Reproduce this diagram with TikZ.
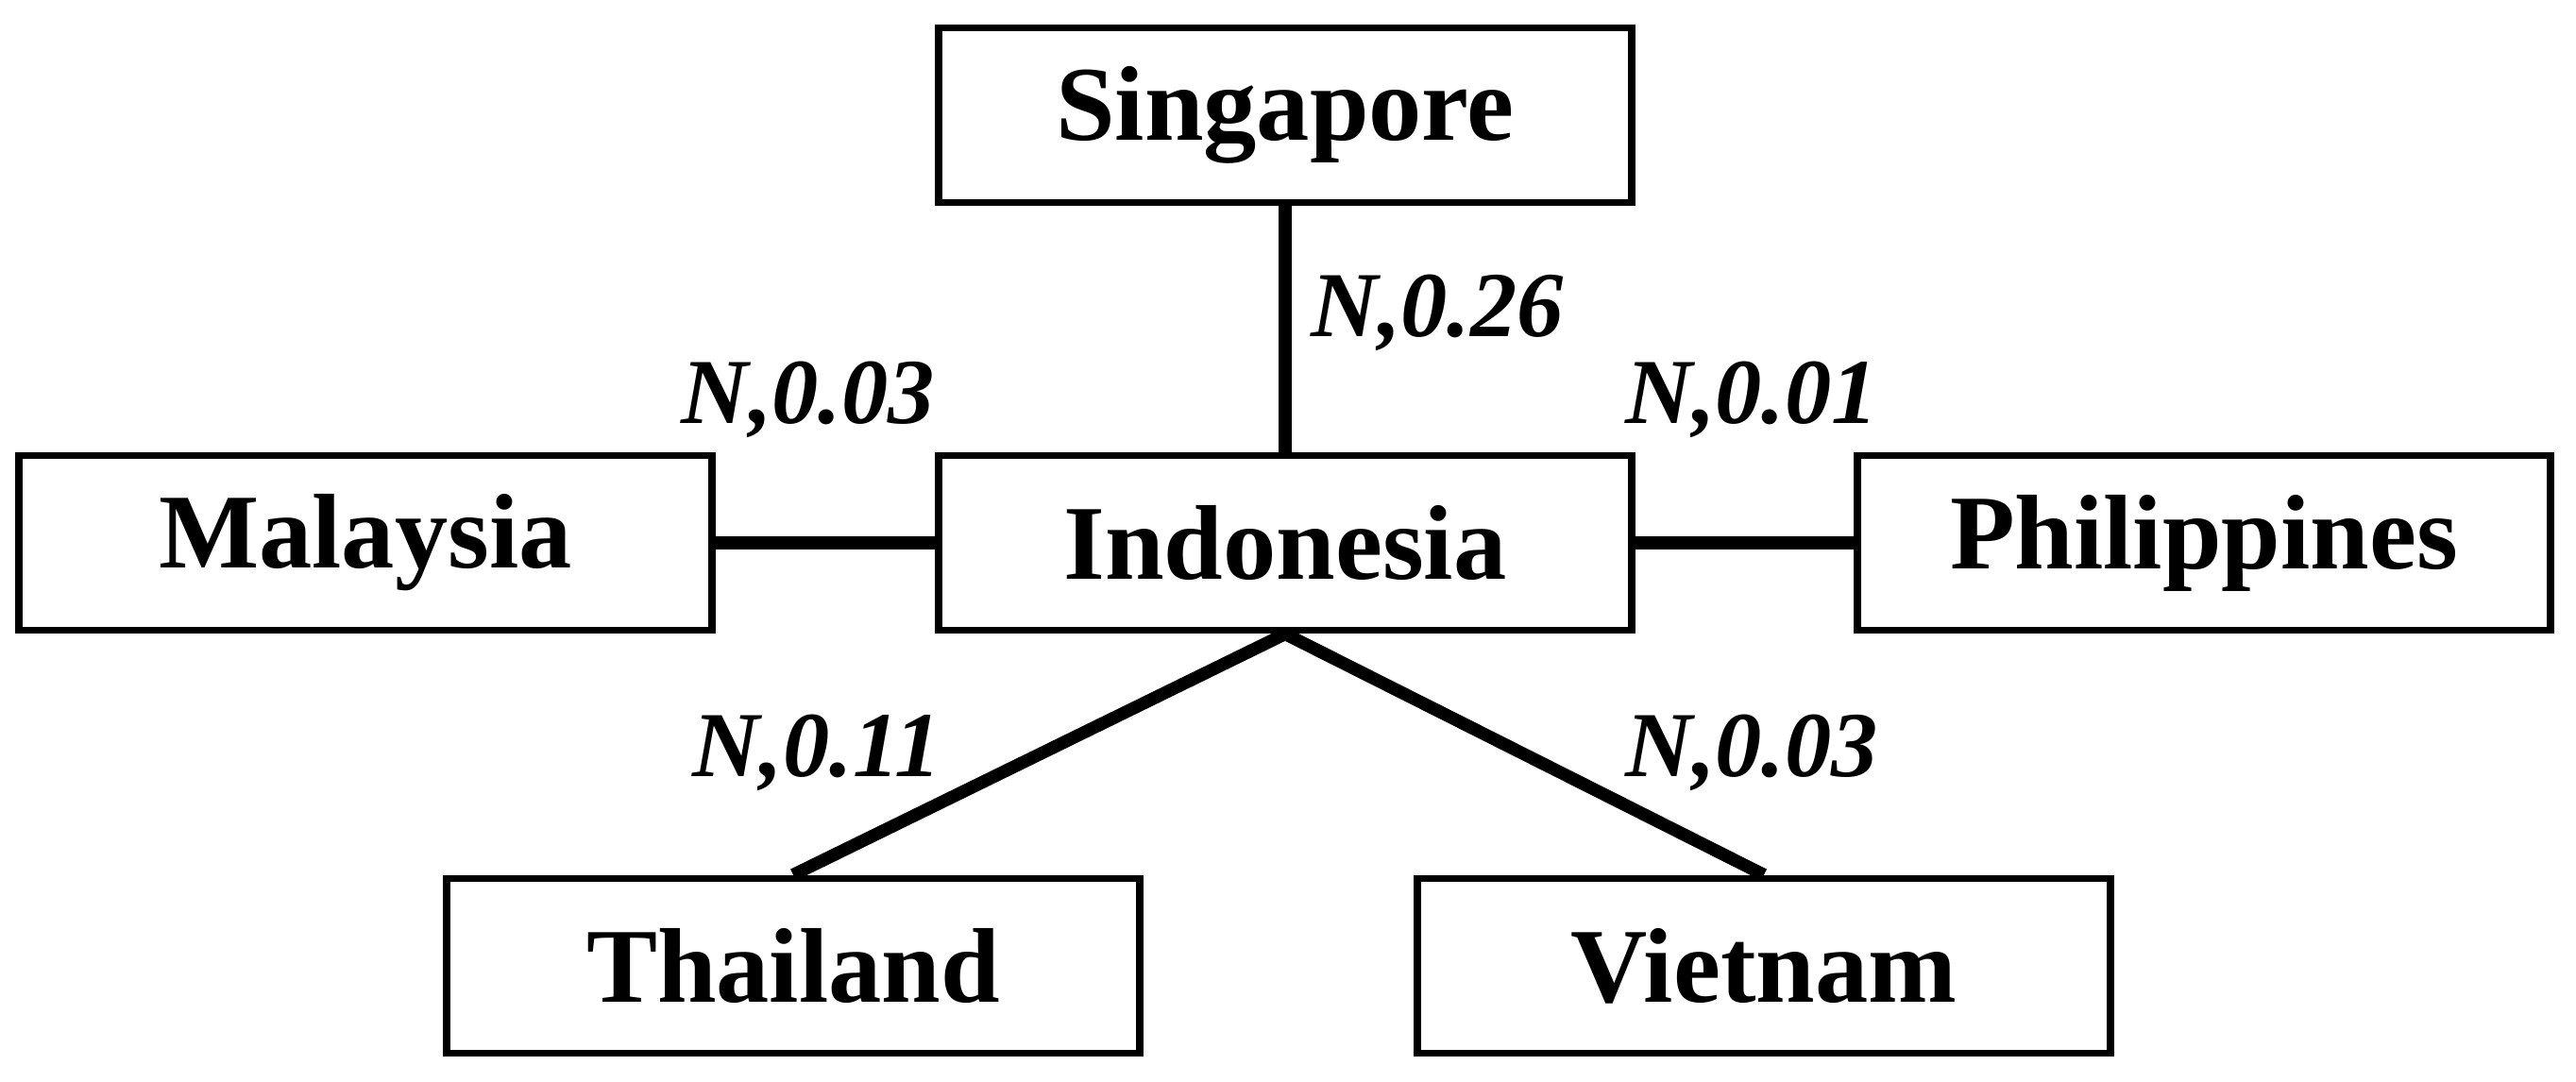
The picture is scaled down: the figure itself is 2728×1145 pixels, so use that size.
\documentclass[tikz,border=0pt]{standalone}
\usepackage{fontspec}
\setmainfont{Liberation Serif}
\usetikzlibrary{positioning}

\tikzset{
  country/.style={draw, line width=2.2pt, minimum width=7.33cm, minimum height=1.85cm,
    inner sep=0pt, font=\fontsize{32}{38}\selectfont\bfseries},
  weight/.style={font=\fontsize{28}{34}\selectfont\bfseries\itshape, inner sep=0pt},
  link/.style={line width=3.8pt}
}

\begin{document}
\begin{tikzpicture}[x=0.01cm, y=-0.01cm]
          \useasboundingbox (0,0) rectangle (2728,1145);

          \node[country] (sg) at (1361, 122) {Singapore};
          \node[country] (id) at (1361, 575) {Indonesia};
          \node[country] (my) at (387, 575) {Malaysia};
          \node[country] (ph) at (2334, 575) {Philippines};
          \node[country] (th) at (840, 1023) {Thailand};
          \node[country] (vn) at (1868, 1023) {Vietnam};

          % Edges
          \draw[link] (sg) -- (id);
          \draw[link] (my) -- (id);
          \draw[link] (id) -- (ph);
          \draw[link] (id.south) -- (th.north);
          \draw[link] (id.south) -- (vn.north);

          % Weights
          \node[weight] (wsg) at (1522, 331) {N,0.26};
          \node[weight] (wmy) at (856, 423) {N,0.03};
          \node[weight] (wph) at (1855, 423) {N,0.01};
          \node[weight] (wth) at (865, 797) {N,0.11};
          \node[weight] (wvn) at (1855, 797) {N,0.03};
    \end{tikzpicture}
\end{document}
